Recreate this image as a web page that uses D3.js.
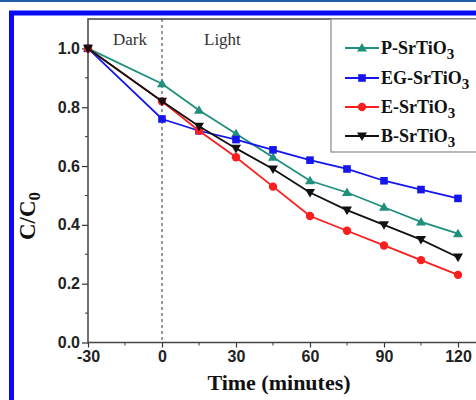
<!DOCTYPE html>
<html>
<head>
<meta charset="utf-8">
<script src="https://cdn.jsdelivr.net/npm/d3@7/dist/d3.min.js"></script>
<style>
  html, body { margin: 0; padding: 0; background: #fff; }
  svg { display: block; }
</style>
</head>
<body>
<svg id="chart" width="476" height="400"></svg>
<script>
// Photocatalytic degradation: C/C0 versus irradiation time
const times = [-30, 0, 15, 30, 45, 60, 75, 90, 105, 120];
const pSrTiO3  = [1.00, 0.88, 0.79, 0.71, 0.63, 0.55, 0.51, 0.46, 0.41, 0.37];
const egSrTiO3 = [1.00, 0.76, 0.72, 0.69, 0.655, 0.62, 0.59, 0.55, 0.52, 0.49];
const eSrTiO3  = [1.00, 0.82, 0.72, 0.63, 0.53, 0.43, 0.38, 0.33, 0.28, 0.23];
const bSrTiO3  = [1.00, 0.82, 0.735, 0.66, 0.59, 0.51, 0.45, 0.40, 0.35, 0.29];
const seriesNames = ["P-SrTiO", "EG-SrTiO", "E-SrTiO", "B-SrTiO"];
const xTicks = [-30, 0, 30, 60, 90, 120];
const yTicks = [0.0, 0.2, 0.4, 0.6, 0.8, 1.0];

const series = [
  { name: seriesNames[0], values: pSrTiO3,  color: "#1f8f7e", marker: "triUp" },
  { name: seriesNames[1], values: egSrTiO3, color: "#1515ee", marker: "square" },
  { name: seriesNames[2], values: eSrTiO3,  color: "#fa1e1e", marker: "circle" },
  { name: seriesNames[3], values: bSrTiO3,  color: "#111111", marker: "triDown" }
];

const svg = d3.select("#chart");

// page framing: thin rule at the very top and a blue panel border
svg.append("rect").attr("x", 0).attr("y", 0).attr("width", 476).attr("height", 2).attr("fill", "#1f5ea6");
svg.append("rect").attr("x", 11.5).attr("y", 13).attr("width", 480).attr("height", 400)
  .attr("fill", "none").attr("stroke", "#0a0af5").attr("stroke-width", 5);

const x = d3.scaleLinear().domain([-30, 120]).range([88, 458]);
const y = d3.scaleLinear().domain([0, 1.1]).range([342.5, 19]);

const plotLeft = 88, plotTop = 19, plotRight = 520, plotBottom = 342.5;

// minor ticks
const gMinor = svg.append("g").attr("stroke", "#333").attr("stroke-width", 1);
d3.range(-15, 121, 30).forEach(v => {
  gMinor.append("line").attr("x1", x(v)).attr("x2", x(v)).attr("y1", plotBottom).attr("y2", plotBottom + 3);
});
d3.range(0.1, 1.05, 0.2).forEach(v => {
  gMinor.append("line").attr("x1", plotLeft - 3).attr("x2", plotLeft).attr("y1", y(v)).attr("y2", y(v));
});

// axes (plain hyphen for negative labels)
const xAxis = d3.axisBottom(x).tickValues(xTicks).tickSize(5).tickPadding(3).tickFormat(d => String(d));
const yAxis = d3.axisLeft(y).tickValues(yTicks).tickSize(6).tickPadding(2).tickFormat(d => d.toFixed(1));

const gx = svg.append("g").attr("transform", `translate(0,${plotBottom})`).call(xAxis);
const gy = svg.append("g").attr("transform", `translate(${plotLeft},0)`).call(yAxis);
[gx, gy].forEach(g => {
  g.select(".domain").remove();
  g.selectAll(".tick line").attr("stroke", "#333").attr("stroke-width", 1.2);
  g.selectAll(".tick text")
    .attr("fill", "#222")
    .style("font-family", "Liberation Sans, Arial, sans-serif")
    .style("font-weight", "bold")
    .style("font-size", "16px");
});

// plot frame
svg.append("rect").attr("x", plotLeft).attr("y", plotTop)
  .attr("width", plotRight - plotLeft).attr("height", plotBottom - plotTop)
  .attr("fill", "none").attr("stroke", "#444").attr("stroke-width", 1.5);

// dark/light boundary
svg.append("line").attr("x1", x(0)).attr("x2", x(0)).attr("y1", plotTop).attr("y2", plotBottom)
  .attr("stroke", "#333").attr("stroke-width", 1).attr("stroke-dasharray", "3,3");

const serif = "Liberation Serif, Times New Roman, serif";
svg.append("text").attr("x", 113).attr("y", 45).text("Dark")
  .style("font-family", serif).style("font-size", "17px").attr("fill", "#333");
svg.append("text").attr("x", 204).attr("y", 45).text("Light")
  .style("font-family", serif).style("font-size", "17px").attr("fill", "#333");

// marker shapes
function drawMarker(g, kind, cx, cy, color) {
  if (kind === "circle") {
    g.append("circle").attr("cx", cx).attr("cy", cy).attr("r", 4.2).attr("fill", color);
  } else if (kind === "square") {
    g.append("rect").attr("x", cx - 3.8).attr("y", cy - 3.8).attr("width", 7.6).attr("height", 7.6).attr("fill", color);
  } else if (kind === "triUp") {
    g.append("path").attr("d", `M${cx},${cy - 5} L${cx + 5},${cy + 3.6} L${cx - 5},${cy + 3.6} Z`).attr("fill", color);
  } else {
    g.append("path").attr("d", `M${cx},${cy + 5} L${cx + 5},${cy - 3.6} L${cx - 5},${cy - 3.6} Z`).attr("fill", color);
  }
}

const line = d3.line().x(d => x(d[0])).y(d => y(d[1]));

series.forEach(s => {
  const pts = times.map((t, i) => [t, s.values[i]]);
  const g = svg.append("g");
  g.append("path").attr("d", line(pts)).attr("fill", "none")
    .attr("stroke", s.color).attr("stroke-width", 1.8);
  pts.forEach(p => drawMarker(g, s.marker, x(p[0]), y(p[1]), s.color));
});

// legend
const legend = svg.append("g");
legend.append("rect").attr("x", 331).attr("y", 19).attr("width", 200).attr("height", 133)
  .attr("fill", "#fff").attr("stroke", "#888").attr("stroke-width", 1.2);
const legendY = [48, 78, 107, 136];
series.forEach((s, i) => {
  const ly = legendY[i];
  legend.append("line").attr("x1", 345).attr("x2", 379).attr("y1", ly).attr("y2", ly)
    .attr("stroke", s.color).attr("stroke-width", 1.8);
  drawMarker(legend, s.marker, 362, ly, s.color);
  const t = legend.append("text").attr("x", 381).attr("y", ly + 6)
    .style("font-family", serif).style("font-weight", "bold").style("font-size", "18px").attr("fill", "#111");
  t.append("tspan").text(s.name);
  t.append("tspan").attr("dy", 5).style("font-size", "15px").text("3");
});

// axis titles
svg.append("text").attr("x", 279).attr("y", 390).attr("text-anchor", "middle")
  .style("font-family", serif).style("font-weight", "bold").style("font-size", "22px").attr("fill", "#111")
  .text("Time (minutes)");

const yt = svg.append("text").attr("transform", "translate(35,216) rotate(-90)").attr("text-anchor", "middle")
  .style("font-family", serif).style("font-weight", "bold").style("font-size", "23px").attr("fill", "#111");
yt.append("tspan").text("C/C");
yt.append("tspan").attr("dy", 5).style("font-size", "17px").text("0");
</script>
</body>
</html>
